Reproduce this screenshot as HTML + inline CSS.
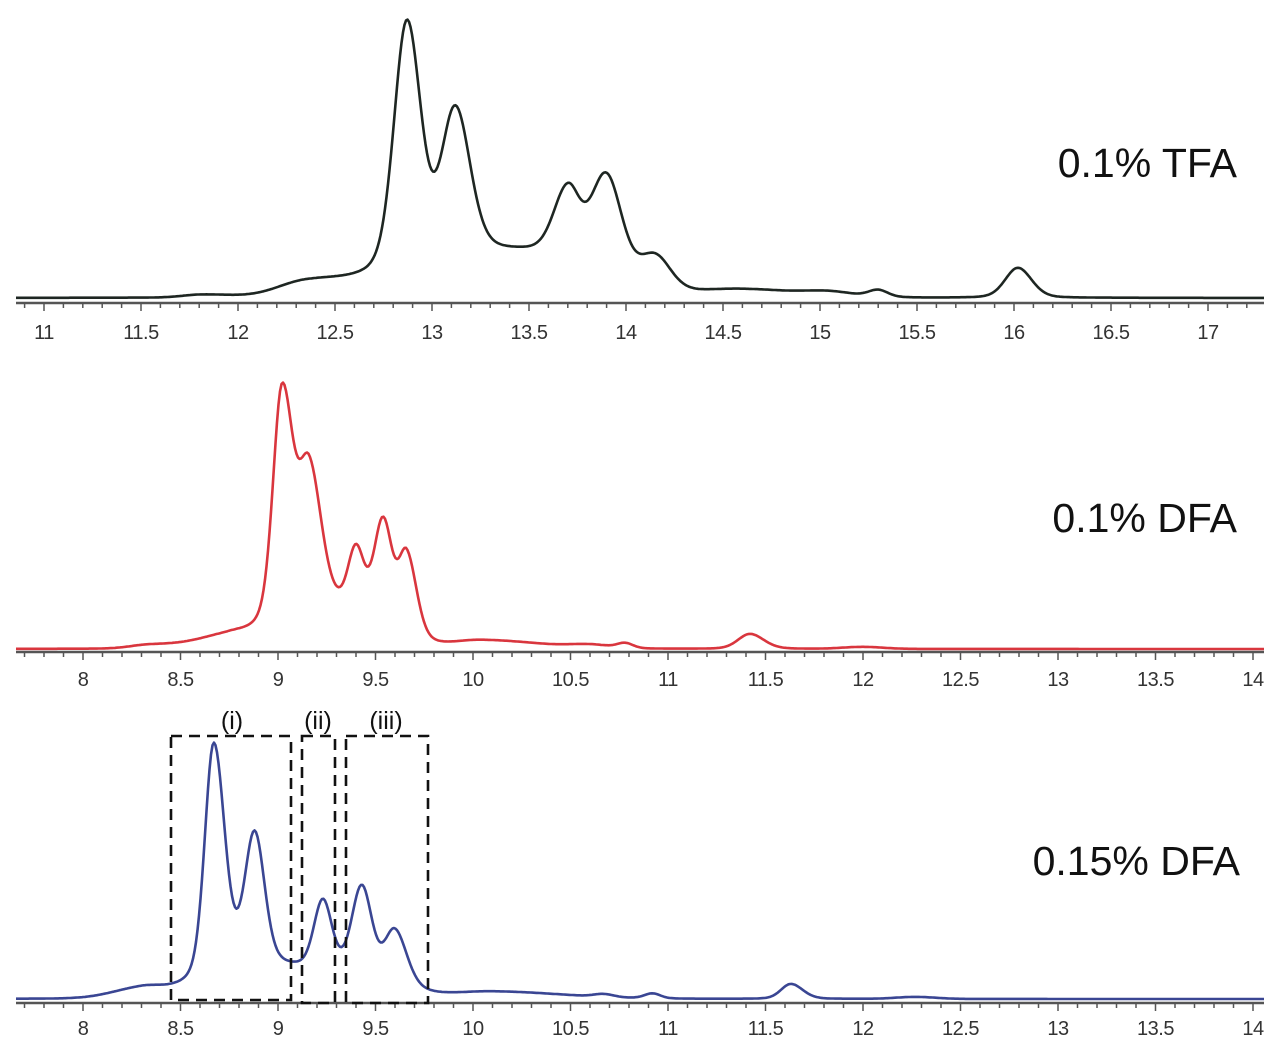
<!DOCTYPE html>
<html><head><meta charset="utf-8"><style>
html,body{margin:0;padding:0;background:#fff;}
svg{display:block;}
text{font-family:"Liberation Sans",sans-serif;}
</style></head><body>
<svg id="s" width="1280" height="1063" viewBox="0 0 1280 1063" xmlns="http://www.w3.org/2000/svg">
<g id="g"></g>
<text x="1237" y="177" font-size="41" text-anchor="end" fill="#111">0.1% TFA</text>
<text x="1237" y="532" font-size="41" text-anchor="end" fill="#111">0.1% DFA</text>
<text x="1240" y="875" font-size="41" text-anchor="end" fill="#111">0.15% DFA</text>
<g fill="none" stroke="#111" stroke-width="2.6" stroke-dasharray="11,7">
<rect x="171" y="736" width="120" height="264"/>
<rect x="302" y="736" width="33" height="267"/>
<rect x="346" y="736" width="82" height="267"/>
</g>
<g font-size="25" fill="#111" text-anchor="middle">
<text x="232" y="729">(i)</text>
<text x="318" y="729">(ii)</text>
<text x="386" y="729">(iii)</text>
</g>
</svg>
<script>
const g=document.getElementById('g');
function add(tag,attrs){const e=document.createElementNS('http://www.w3.org/2000/svg',tag);for(const k in attrs)e.setAttribute(k,attrs[k]);g.appendChild(e);return e;}
function drawAxis(y,xOf,t0,t1,lblY){
  add('line',{x1:16,x2:1264,y1:y,y2:y,stroke:'#555','stroke-width':2.5});
  for(let i=Math.round(t0*10);i<=Math.round(t1*10);i++){
    const t=i/10,x=xOf(t);if(x<16||x>1264)continue;
    const major=i%5==0;
    add('line',{x1:x,x2:x,y1:y,y2:y+(major?8:5),stroke:'#555','stroke-width':1.5});
    if(major){const tx=add('text',{x:x,y:lblY,'font-size':20,'text-anchor':'middle',fill:'#333','letter-spacing':'-0.5'});tx.textContent=(Math.round(t*10)/10).toString();}
  }
}
function curve(xOf,t0,t1,base,peaks,color,w){
  let d='';
  for(let x=16;x<=1264;x+=1.5){
    const t=t0+(x-xOf(t0))/(xOf(t0+1)-xOf(t0));
    let h=0;for(const p of peaks){const z=(t-p[0])/(t<p[0]?p[2]:(p[3]||p[2]));const L=p[4]===undefined?0.22:p[4];h+=p[1]*((1-L)*Math.exp(-z*z/2)+L/(1+z*z*0.6));}
    d+=(d?'L':'M')+x.toFixed(1)+','+(base-h).toFixed(1);
  }
  add('path',{d:d,fill:'none',stroke:color,'stroke-width':w||2.6,'stroke-linejoin':'round'});
}
// top
const xT=t=>44+(t-11)*194;
drawAxis(303,xT,10.8,17.3,339);
curve(xT,10.8,17.3,298,[
 [12.87,242,0.065,0.07],[13.12,143,0.07,0.075],[13.0,30,0.3,0.3,0],
 [13.7,68,0.07,0.06],[13.9,102,0.08,0.08],[14.15,35,0.08,0.08],[13.6,38,0.35,0.25,0],
 [12.35,14,0.15,0.2,0],[11.82,3,0.1,0.15,0],[14.6,8,0.25,0.3,0],[15.3,7,0.05,0.05],[15.05,4,0.12,0.12,0],
 [16.02,30,0.065,0.07]],'#1e2622',2.6);
// middle
const xM=t=>83+(t-8)*195;
drawAxis(652,xM,7.6,14.1,686);
curve(xM,7.6,14.1,649,[
 [9.02,220,0.045,0.055],[9.16,128,0.05,0.06],[9.1,40,0.15,0.15,0],
 [9.4,60,0.04,0.04],[9.54,98,0.045,0.045],[9.66,80,0.04,0.05],[9.45,32,0.2,0.15,0],
 [8.75,12,0.15,0.1,0],[8.35,4,0.1,0.2,0],[10.05,8,0.15,0.3,0],[10.6,3,0.1,0.1,0],[10.78,5,0.04,0.04],
 [11.42,15,0.06,0.07],[12.0,2,0.1,0.1,0]],'#d9363e',2.6);
// bottom
const xB=t=>83+(t-8)*195;
drawAxis(1003,xB,7.6,14.1,1035);
curve(xB,7.6,14.1,999,[
 [8.67,230,0.045,0.055],[8.88,130,0.05,0.05],[8.85,30,0.25,0.25,0],
 [9.23,68,0.045,0.045],[9.43,85,0.05,0.05],[9.6,52,0.05,0.06],[9.4,24,0.25,0.2,0],
 [8.3,9,0.15,0.1,0],[10.1,7,0.2,0.35,0],[10.67,3,0.05,0.05],[10.92,5,0.04,0.04],
 [11.63,15,0.05,0.06],[12.27,2,0.1,0.1,0]],'#3a4693',2.6);
</script>
</body></html>
